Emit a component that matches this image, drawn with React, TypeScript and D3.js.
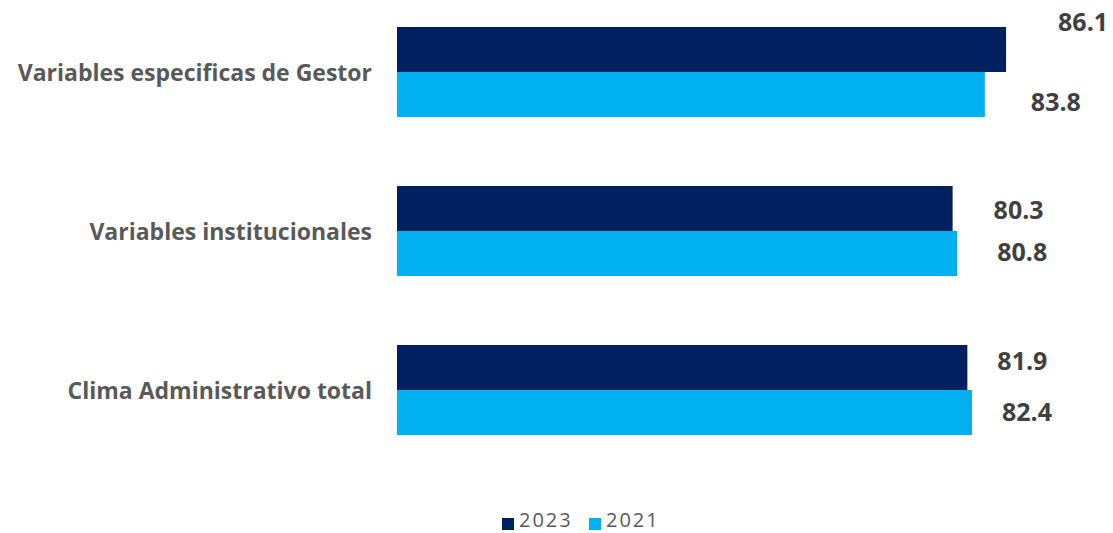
import React from "react";
import * as d3 from "d3";

const categories = ["Variables especificas de Gestor", "Variables institucionales", "Clima Administrativo total"];
const seriesNames = ["2023", "2021"];
const values2023 = [86.1, 80.3, 81.9];
const values2021 = [83.8, 80.8, 82.4];
// label nudges (style only): [dx, dy] relative to bar end / bar centre
const labelNudge2023: [number, number][] = [[52, -28.5], [41, 0.5], [30, -8]];
const labelNudge2021: [number, number][] = [[46, 6.5], [40, -2.5], [30, -1.5]];

const W = 1113;
const H = 533;
const colors = ["#002060", "#00B0F0"];

export default function App() {
  const x = d3.scaleLinear().domain([20, 90]).range([397, 1042]);
  const y = d3.scaleBand<string>().domain(categories).range([27, 435]).paddingInner(0.434).paddingOuter(0);
  const inner = d3.scaleBand<string>().domain(seriesNames).range([0, y.bandwidth()]);
  const series = [values2023, values2021];
  const nudges = [labelNudge2023, labelNudge2021];
  const font = "'Open Sans', 'Liberation Sans', sans-serif";

  return (
    <svg width={W} height={H} style={{ position: "absolute", left: 0, top: 0, background: "#fff" }}>
      {categories.map((c, i) => (
        <g key={c}>
          <text
            x={372}
            y={(y(c) ?? 0) + y.bandwidth() / 2}
            textAnchor="end"
            dominantBaseline="central"
            fontFamily={font}
            fontWeight={700}
            fontSize={23}
            fill="#595959"
          >
            {c}
          </text>
          {series.map((vals, s) => {
            const y0 = (y(c) ?? 0) + (inner(seriesNames[s]) ?? 0);
            return (
              <g key={s}>
                <rect x={x(20)} y={y0} width={x(vals[i]) - x(20)} height={inner.bandwidth()} fill={colors[s]} />
                <text
                  x={x(vals[i]) + nudges[s][i][0]}
                  y={y0 + inner.bandwidth() / 2 + nudges[s][i][1]}
                  dominantBaseline="central"
                  fontFamily={font}
                  fontWeight={700}
                  fontSize={25}
                  fill="#404040"
                >
                  {vals[i].toFixed(1)}
                </text>
              </g>
            );
          })}
        </g>
      ))}
      <g>
        {seriesNames.map((n, s) => (
          <g key={n} transform={`translate(${502 + s * 87},0)`}>
            <rect x={0} y={518} width={12} height={12} fill={colors[s]} />
            <text x={17} y={527} fontFamily={font} fontSize={20} letterSpacing={2} fill="#595959">
              {n}
            </text>
          </g>
        ))}
      </g>
    </svg>
  );
}
